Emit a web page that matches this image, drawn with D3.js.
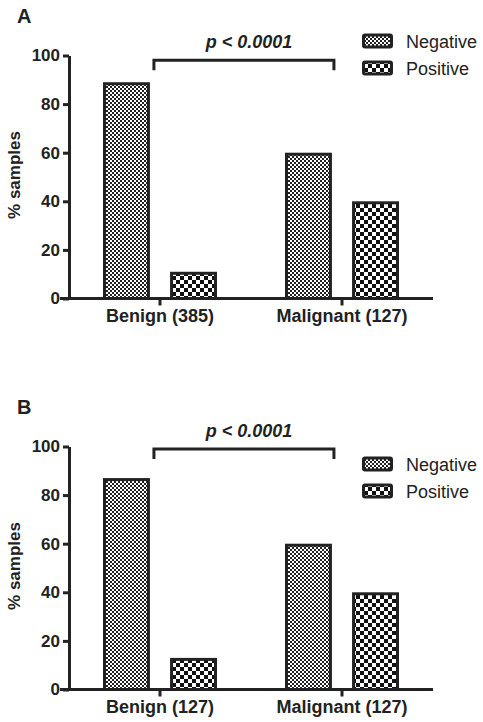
<!DOCTYPE html>
<html><head><meta charset="utf-8">
<script src="https://cdn.jsdelivr.net/npm/d3@7"></script>
<style>body{margin:0;background:#fff}svg{display:block}</style>
</head><body>
<script>
const panels = ["A", "B"];
const groupsA = ["Benign (385)", "Malignant (127)"];
const groupsB = ["Benign (127)", "Malignant (127)"];
const series = ["Negative", "Positive"];
const negativeA = [89, 60];
const positiveA = [11, 40];
const negativeB = [87, 60];
const positiveB = [13, 40];
const yTicks = [0, 20, 40, 60, 80, 100];
const pLabel = "p < 0.0001";
const bracketY = [98, 99];
const yLabel = "% samples";

const W = 483, H = 722;
const svg = d3.select("body").append("svg").attr("width", W).attr("height", H);
const defs = svg.append("defs");
const pn = defs.append("pattern").attr("id", "pNeg").attr("patternUnits", "userSpaceOnUse").attr("width", 4).attr("height", 4);
pn.append("rect").attr("width", 4).attr("height", 4).attr("fill", "#fff");
pn.append("rect").attr("width", 2).attr("height", 2).attr("fill", "#222");
pn.append("rect").attr("x", 2).attr("y", 2).attr("width", 2).attr("height", 2).attr("fill", "#222");
const pp = defs.append("pattern").attr("id", "pPos").attr("patternUnits", "userSpaceOnUse").attr("width", 8).attr("height", 8);
pp.append("rect").attr("width", 8).attr("height", 8).attr("fill", "#fff");
pp.append("rect").attr("width", 4).attr("height", 4).attr("fill", "#111");
pp.append("rect").attr("x", 4).attr("y", 4).attr("width", 4).attr("height", 4).attr("fill", "#111");
const fills = {Negative: "url(#pNeg)", Positive: "url(#pPos)"};

const font = "'Liberation Sans', Arial, sans-serif";
const data = [
  {groups: groupsA, neg: negativeA, pos: positiveA, dy: 0, legendDy: -15},
  {groups: groupsB, neg: negativeB, pos: positiveB, dy: 391, legendDy: 17}
];

data.forEach((d, i) => {
  const g = svg.append("g").attr("transform", `translate(0,${d.dy})`);
  const y = d3.scaleLinear().domain([0, 100]).range([298.5, 55.5]);
  const x0 = d3.scaleBand().domain(d.groups).range([69, 433]);
  const x1 = d3.scaleBand().domain(series).range([34, 148]).paddingInner(0.3);

  g.append("text").attr("x", 17).attr("y", 23).text(panels[i])
    .attr("font-family", font).attr("font-weight", "bold").attr("font-size", 20).attr("fill", "#222");

  const rows = d.groups.map((grp, k) => ({grp, vals: [d.neg[k], d.pos[k]]}));
  rows.forEach(r => {
    series.forEach((s, j) => {
      const v = r.vals[j];
      g.append("rect")
        .attr("x", x0(r.grp) + x1(s) + 1.5)
        .attr("y", y(v) + 1.5)
        .attr("width", x1.bandwidth() - 3)
        .attr("height", y(0) - y(v) - 1.5)
        .attr("fill", fills[s]).attr("stroke", "#222").attr("stroke-width", 3);
    });
  });

  const ya = g.append("g").attr("transform", "translate(69,0)")
    .call(d3.axisLeft(y).tickValues(yTicks).tickSize(6).tickSizeOuter(0).tickPadding(3));
  ya.select(".domain").attr("stroke", "#222").attr("stroke-width", 3);
  ya.selectAll(".tick line").attr("stroke", "#222").attr("stroke-width", 3);
  ya.selectAll(".tick text").attr("font-family", font).attr("font-weight", "bold").attr("font-size", 17).attr("fill", "#222");

  const xa = g.append("g").attr("transform", `translate(0,${y(0)})`)
    .call(d3.axisBottom(x0).tickSize(7).tickSizeOuter(0).tickPadding(4));
  xa.select(".domain").attr("stroke", "#222").attr("stroke-width", 3).attr("d", `M60,0H433`);
  xa.selectAll(".tick line").attr("stroke", "#222").attr("stroke-width", 3);
  xa.selectAll(".tick text").attr("font-family", font).attr("font-weight", "bold").attr("font-size", 18).attr("fill", "#222");

  g.append("text").attr("transform", `translate(20,${175}) rotate(-90)`)
    .attr("text-anchor", "middle").text(yLabel)
    .attr("font-family", font).attr("font-weight", "bold").attr("font-size", 17).attr("fill", "#222");

  const bx1 = x0(d.groups[0]) + x1(series[0]) + x1.bandwidth() + 4;
  const bx2 = x0(d.groups[1]) + x1(series[0]) + x1.bandwidth() + 2;
  const by = y(bracketY[i]);
  g.append("path").attr("d", `M${bx1},${by + 10}V${by}H${bx2}V${by + 10}`)
    .attr("fill", "none").attr("stroke", "#222").attr("stroke-width", 3);
  g.append("text").attr("x", (bx1 + bx2) / 2 + 5).attr("y", by - 12).attr("text-anchor", "middle")
    .text(pLabel).attr("font-family", font).attr("font-weight", "bold").attr("font-style", "italic").attr("font-size", 18).attr("fill", "#222");

  series.forEach((s, j) => {
    const ly = y(100) + d.legendDy + j * 27;
    g.append("rect").attr("x", 363.5).attr("y", ly - 5.5).attr("width", 28).attr("height", 12).attr("rx", 1.5)
      .attr("fill", fills[s]).attr("stroke", "#222").attr("stroke-width", 3);
    g.append("text").attr("x", 406).attr("y", ly + 7).text(s)
      .attr("font-family", font).attr("font-size", 18).attr("fill", "#222");
  });
});
</script>
</body></html>
